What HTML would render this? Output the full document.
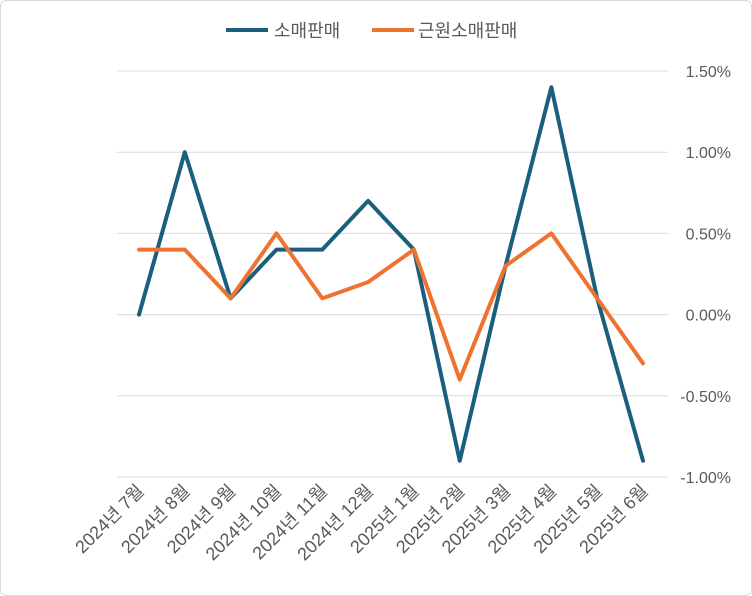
<!DOCTYPE html>
<html><head><meta charset="utf-8">
<style>
html,body{margin:0;padding:0;background:#fff;}
#wrap{position:relative;width:752px;height:596px;overflow:hidden;}
svg text{font-family:"Liberation Sans","Noto Sans CJK KR",sans-serif;fill:#595959;font-size:16px;}
</style></head>
<body>
<div id="wrap">
<svg id="chart" width="752" height="596">
<rect x="0.5" y="0.5" width="751" height="595" rx="6" fill="#fff" stroke="#d9d9d9"/>
<g id="grid"></g>
<g id="yticks"></g>
<g id="xticks"></g>
<g id="series"></g>
<g>
<g>
<line x1="226" y1="30" x2="268" y2="30" stroke="#1b5e7e" stroke-width="4"/>
<text x="274" y="37" style="font-size:18px">소매판매</text></g>
<g>
<line x1="372" y1="30" x2="414" y2="30" stroke="#ee7330" stroke-width="4"/>
<text x="418" y="37" style="font-size:18px">근원소매판매</text></g>
</g>
</svg>
</div>
<script>
const categories=["2024년 7월","2024년 8월","2024년 9월","2024년 10월","2024년 11월","2024년 12월","2025년 1월","2025년 2월","2025년 3월","2025년 4월","2025년 5월","2025년 6월"];
const retail=[0,1.0,0.1,0.4,0.4,0.7,0.4,-0.9,0.3,1.4,0.1,-0.9];
const coreRetail=[0.4,0.4,0.1,0.5,0.1,0.2,0.4,-0.4,0.3,0.5,0.1,-0.3];
const yTicks=[1.5,1.0,0.5,0.0,-0.5,-1.0];
const yTickLabels=["1.50%","1.00%","0.50%","0.00%","-0.50%","-1.00%"];

const NS="http://www.w3.org/2000/svg";
const x0=139,x1=643,yTop=71,yBot=477,vMax=1.5,vMin=-1.0;
function xs(i){return x0+(x1-x0)*i/(categories.length-1);}
function ys(v){return yTop+(vMax-v)/(vMax-vMin)*(yBot-yTop);}
const grid=document.getElementById('grid'),yt=document.getElementById('yticks'),xt=document.getElementById('xticks'),ser=document.getElementById('series');
yTicks.forEach((v,i)=>{
  const l=document.createElementNS(NS,'line');
  l.setAttribute('x1',117);l.setAttribute('x2',668);l.setAttribute('y1',ys(v));l.setAttribute('y2',ys(v));
  l.setAttribute('stroke','#d9d9d9');l.setAttribute('stroke-width','1');
  
  
  grid.appendChild(l);
  const t=document.createElementNS(NS,'text');
  t.setAttribute('x',731);t.setAttribute('y',ys(v)+6);t.setAttribute('text-anchor','end');
  t.textContent=yTickLabels[i];
  
  
  yt.appendChild(t);
});
categories.forEach((c,i)=>{
  const t=document.createElementNS(NS,'text');
  const x=xs(i)+6,y=492;
  t.setAttribute('x',x);t.setAttribute('y',y);t.setAttribute('text-anchor','end');
  t.setAttribute('style','font-size:18px');
  t.setAttribute('transform','rotate(-45 '+x+' '+y+')');
  t.textContent=c;
  
  
  xt.appendChild(t);
});
function drawLine(vals,color,name){
  const p=document.createElementNS(NS,'polyline');
  p.setAttribute('points',vals.map((v,i)=>xs(i)+','+ys(v)).join(' '));
  p.setAttribute('fill','none');p.setAttribute('stroke',color);p.setAttribute('stroke-width','4');
  p.setAttribute('stroke-linejoin','round');p.setAttribute('stroke-linecap','round');
  
  
  ser.appendChild(p);
}
drawLine(retail,'#1b5e7e','retail-sales-line');
drawLine(coreRetail,'#ee7330','core-retail-sales-line');
</script>
</body></html>
